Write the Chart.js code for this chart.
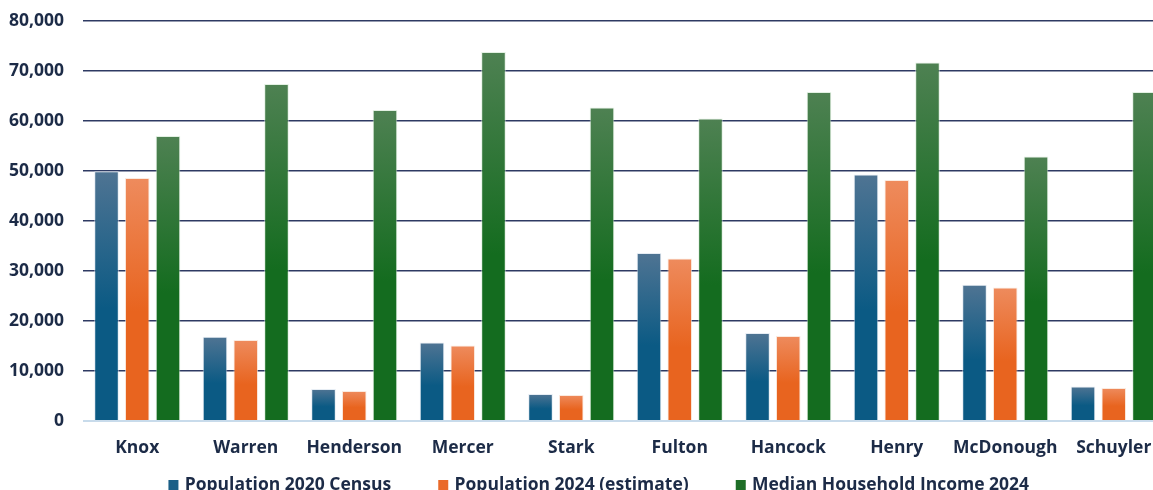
<!DOCTYPE html>
<html>
<head>
<meta charset="utf-8">
<script src="https://cdn.jsdelivr.net/npm/chart.js@4"></script>
<style>
  html, body { margin: 0; padding: 0; background: #ffffff; overflow: hidden; }
  #wrap { position: absolute; left: 0; top: 0; width: 1170px; height: 504px; }
</style>
</head>
<body>
<div id="wrap"><canvas id="c"></canvas></div>
<script>
const categories = ["Knox", "Warren", "Henderson", "Mercer", "Stark", "Fulton", "Hancock", "Henry", "McDonough", "Schuyler"];
const seriesNames = ["Population 2020 Census", "Population 2024 (estimate)", "Median Household Income 2024"];
const pop2020 = [49967, 16835, 6387, 15699, 5400, 33609, 17620, 49284, 27238, 6902];
const pop2024 = [48600, 16200, 6000, 15100, 5200, 32500, 17000, 48200, 26700, 6600];
const income2024 = [57000, 67400, 62200, 73800, 62700, 60500, 65800, 71700, 52900, 65800];
const yTicks = [0, 10000, 20000, 30000, 40000, 50000, 60000, 70000, 80000];

const textColor = '#1c2b47';
const fontFamily = '"Open Sans", "Noto Sans", sans-serif';
const fontSize = 17.5;
const legendColors = ['#1b5f87', '#ea6a2a', '#1e6e27'];

function gradFill(top, bottom, solid) {
  return function (ctx) {
    const chart = ctx.chart;
    if (!chart.chartArea || ctx.type !== 'data') return solid;
    const ys = chart.scales.y;
    const y0 = ys.getPixelForValue(ctx.raw);
    const y1 = ys.getPixelForValue(0);
    if (!isFinite(y0) || !isFinite(y1) || y1 - y0 < 1) return solid;
    const g = chart.ctx.createLinearGradient(0, y0, 0, y1);
    g.addColorStop(0, top);
    g.addColorStop(0.55, bottom);
    g.addColorStop(1, bottom);
    return g;
  };
}

// legend marker: small square placed at the right end of a wider transparent image
function legendMarker(color) {
  const cv = document.createElement('canvas');
  cv.width = 44; cv.height = 10;
  const c = cv.getContext('2d');
  c.fillStyle = color;
  c.fillRect(33, 0, 10, 10);
  return cv;
}

const chart = new Chart(document.getElementById('c'), {
  type: 'bar',
  data: {
    labels: categories,
    datasets: [
      { label: seriesNames[0], data: pop2020,
        backgroundColor: gradFill('#4f7493', '#0b5a84', '#1b5f87'),
        borderColor: 'rgba(220,230,240,0.7)', borderWidth: 1 },
      { label: seriesNames[1], data: pop2024,
        backgroundColor: gradFill('#ee8b5d', '#e8641f', '#ea6a2a'),
        borderColor: 'rgba(250,225,210,0.7)', borderWidth: 1 },
      { label: seriesNames[2], data: income2024,
        backgroundColor: gradFill('#4e8152', '#146c1f', '#1e6e27'),
        borderColor: 'rgba(215,235,215,0.7)', borderWidth: 1 }
    ]
  },
  options: {
    responsive: true,
    maintainAspectRatio: false,
    animation: false,
    devicePixelRatio: 1,
    layout: { padding: { left: 0, right: 2, top: 21, bottom: 0 } },
    datasets: { bar: { categoryPercentage: 0.85, barPercentage: 0.8 } },
    plugins: {
      tooltip: { enabled: false },
      legend: {
        position: 'bottom',
        labels: {
          usePointStyle: true,
          pointStyleWidth: 37,
          boxHeight: 10,
          padding: 17.5,
          color: textColor,
          font: { family: fontFamily, size: fontSize, weight: 'bold' },
          generateLabels: function (chart) {
            return chart.data.datasets.map((d, i) => ({
              text: d.label,
              fillStyle: legendColors[i], strokeStyle: legendColors[i], lineWidth: 0,
              pointStyle: legendMarker(legendColors[i]),
              hidden: false, datasetIndex: i, fontColor: textColor
            }));
          }
        }
      }
    },
    scales: {
      x: {
        grid: { display: false, drawTicks: false },
        border: { display: false },
        afterFit: function (axis) { axis.height = 38; axis.paddingLeft = 0; axis.paddingRight = 0; },
        ticks: { color: textColor, padding: 16.5, maxRotation: 0, minRotation: 0, autoSkip: false,
                 font: { family: fontFamily, size: fontSize, weight: 'bold' } }
      },
      y: {
        min: 0, max: 80000,
        afterBuildTicks: function (axis) { axis.ticks = yTicks.map(v => ({ value: v })); },
        afterFit: function (axis) { axis.width = 83; axis.paddingTop = 0; axis.paddingBottom = 0; },
        grid: {
          drawTicks: false,
          color: ctx => (ctx.tick && ctx.tick.value === 0) ? '#c8dbeb' : '#2e3a63',
          lineWidth: ctx => (ctx.tick && ctx.tick.value === 0) ? 2 : 1.5
        },
        border: { display: false },
        ticks: {
          color: textColor, padding: 19,
          font: { family: fontFamily, size: fontSize, weight: 'bold' },
          callback: v => Number(v).toLocaleString('en-US')
        }
      }
    }
  }
});
</script>
</body>
</html>
